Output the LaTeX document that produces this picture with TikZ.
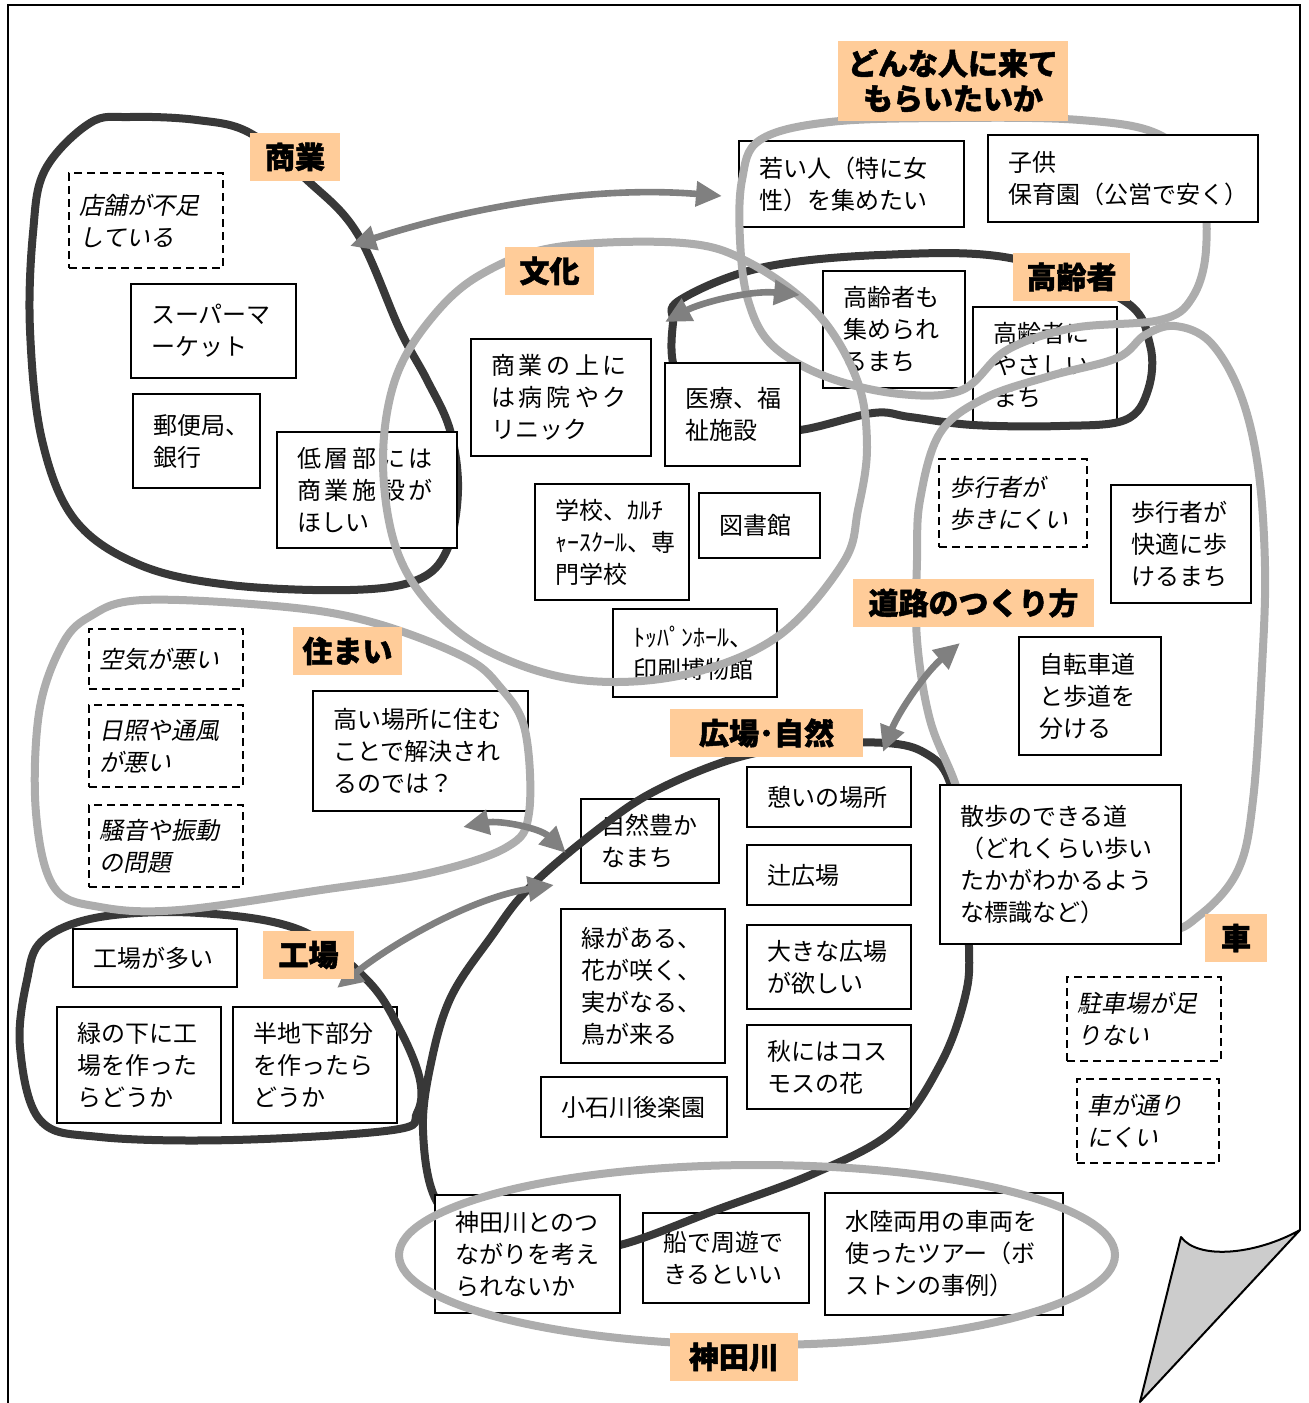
\documentclass[tikz,border=0pt]{standalone}
\usepackage{fontspec}
\setmainfont{Noto Sans CJK JP}[BoldFeatures={FakeBold=1.6}]
\newfontfamily\jpi{Noto Sans CJK JP}[FakeSlant=0.2]
\usetikzlibrary{arrows.meta}
\definecolor{catorange}{RGB}{255,204,153}
\newcommand\bx[7][box]{%
  \pgfmathsetmacro\bxw{(#5-#3)*0.5-20}%
  \pgfmathsetmacro\bxh{(#6-#4)*0.5}%
  \node[#1, text width=\bxw pt, minimum height=\bxh pt] (#2) at ({(#3+#5)/2},{(#4+#6)/2}) {#7};%
}
\newcommand\dbx[6]{%
  \pgfmathsetmacro\bxw{(#4-#2)*0.5-10}%
  \pgfmathsetmacro\bxh{(#5-#3)*0.5}%
  \node[dbox, text width=\bxw pt, minimum height=\bxh pt] (#1) at ({(#2+#4)/2},{(#3+#5)/2}) {#6};%
}
\newcommand\ct[6]{%
  \pgfmathsetmacro\bxw{(#4-#2)*0.5}%
  \pgfmathsetmacro\bxh{(#5-#3)*0.5}%
  \node[cat, minimum width=\bxw pt, minimum height=\bxh pt] (#1) at ({(#2+#4)/2},{(#3+#5)/2}) {#6};%
}
\begin{document}
\begin{tikzpicture}[x=0.5pt,y=-0.5pt,
  box/.style={draw=black,line width=1pt,fill=white,align=left,inner xsep=10pt,inner ysep=2pt,font=\fontsize{12}{16}\selectfont},
  dbox/.style={box,inner xsep=5pt,dash pattern=on 4pt off 2.5pt,font=\fontsize{12}{16}\selectfont\jpi},
  cat/.style={fill=catorange,align=center,inner sep=0pt,font=\fontsize{15}{17.5}\selectfont\bfseries},
  darkline/.style={draw=black!78,line width=4pt},
  grayline/.style={draw=black!32,line width=4pt},
  conn/.style={draw=black!50,line width=3.3pt,{Triangle[length=13pt,width=12pt]}-{Triangle[length=13pt,width=12pt]}}]
\useasboundingbox (0,0) rectangle (1308,1403);
% page frame and folded corner
\draw[line width=1pt] (8,1403) -- (8,5) -- (1300,5) -- (1300,1230);
\draw[line width=1pt,fill=black!20,line join=round] (1300,1230) -- (1140,1402) -- (1181,1237)
  .. controls (1198,1260) and (1255,1255) .. (1300,1230) -- cycle;

% ordinary boxes
\bx{young}{739}{141}{964}{227}{若い人（特に女\\性）を集めたい}
\bx{super}{131}{284}{296}{378}{スーパーマ\\ーケット}
\bx{post}{133}{394}{260}{488}{郵便局、\\銀行}
\bx{hosp}{471}{339}{651}{456}{商\,業\,の\,上\,に\\は\,病\,院\,や\,ク\\リニック}
\bx{eldm}{823}{271}{965}{388}{高齢者も\\集められ\\るまち}
\bx{eldy}{973}{307}{1117}{424}{高齢者に\\やさしい\\まち}
\bx{school}{535}{484}{689}{600}{学校、ｶﾙﾁ\\ｬｰｽｸｰﾙ、専\\門学校}
\bx{lib}{699}{493}{820}{558}{図書館}
\bx{toppan}{613}{609}{777}{697}{ﾄｯﾊﾟﾝﾎｰﾙ、\\印刷博物館}
\bx{walkok}{1111}{485}{1251}{603}{歩行者が\\快適に歩\\けるまち}
\bx{bike}{1019}{637}{1161}{755}{自転車道\\と歩道を\\分ける}
\bx{high}{313}{691}{528}{811}{高い場所に住む\\ことで解決され\\るのでは？}
\bx{nature}{581}{799}{719}{883}{自然豊か\\なまち}
\bx{ikoi}{747}{767}{911}{827}{憩いの場所}
\bx{tsuji}{747}{845}{911}{905}{辻広場}
\bx{bigsq}{747}{925}{911}{1009}{大きな広場\\が欲しい}
\bx{cosmos}{747}{1025}{911}{1109}{秋にはコス\\モスの花}
\bx{green}{561}{909}{725}{1063}{緑がある、\\花が咲く、\\実がなる、\\鳥が来る}
\bx{koraku}{541}{1077}{727}{1137}{小石川後楽園}
\bx{factm}{73}{929}{237}{987}{工場が多い}
\bx{factg}{57}{1007}{221}{1123}{緑の下に工\\場を作った\\らどうか}
\bx{facth}{233}{1007}{397}{1123}{半地下部分\\を作ったら\\どうか}
\bx{boat}{643}{1213}{809}{1303}{船で周遊で\\きるといい}
\bx{amph}{825}{1193}{1063}{1315}{水陸両用の車両を\\使ったツアー（ボ\\ストンの事例）}

% dashed boxes
\dbx{shops}{69}{173}{223}{268}{店舗が不足\\している}
\dbx{air}{89}{629}{243}{689}{空気が悪い}
\dbx{sun}{89}{705}{243}{787}{日照や通風\\が悪い}
\dbx{noise}{89}{805}{243}{887}{騒音や振動\\の問題}
\dbx{walkng}{939}{459}{1087}{547}{歩行者が\\歩きにくい}
\dbx{park}{1067}{977}{1221}{1061}{駐車場が足\\りない}
\dbx{cars}{1077}{1079}{1219}{1163}{車が通り\\にくい}

% dark group outlines
\draw[darkline] plot[smooth cycle,tension=0.6] coordinates {(90,123) (130,117) (197,120) (250,133) (307,180) (357,233) (400,330) (427,380) (450,430) (458,490) (447,550) (417,580) (350,590) (230,585) (140,565) (75,520) (42,440) (30,330) (33,233) (45,170)};
\draw[darkline] plot[smooth cycle,tension=0.6] coordinates {(680,300) (760,268) (880,255) (1010,258) (1123,300) (1150,345) (1148,390) (1125,420) (1060,426) (973,425) (910,417) (873,413) (800,430) (740,430) (690,400) (673,363) (673,323)};
\draw[darkline] plot[smooth cycle,tension=0.6] coordinates {(43,940) (100,917) (200,913) (300,930) (367,980) (400,1030) (420,1080) (417,1113) (393,1130) (233,1140) (100,1137) (40,1120) (20,1047) (27,980)};
\draw[darkline] plot[smooth cycle,tension=0.6] coordinates {(620,1245) (716,1210) (815,1173) (894,1130) (941,1063) (965,997) (969,947) (962,850) (949,780) (925,753) (886,743) (810,745) (736,758) (657,790) (601,827) (530,887) (491,937) (451,997) (431,1063) (423,1130) (436,1200) (480,1240) (550,1252)};
% gray outlines drawn below some boxes
\draw[grayline] plot[smooth cycle,tension=0.6] coordinates {(760,140) (830,122) (950,118) (1080,120) (1160,135) (1200,180) (1206,250) (1192,298) (1160,320) (1073,328) (1007,350) (962,390) (900,394) (827,377) (772,345) (748,300) (740,240) (742,180)};
\draw[grayline] plot[smooth cycle,tension=0.6] coordinates {(920,500) (940,433) (985,398) (1050,376) (1117,358) (1145,335) (1175,326) (1210,342) (1240,393) (1258,467) (1265,567) (1262,667) (1253,800) (1238,870) (1200,915) (1160,930) (1060,905) (975,850) (955,783) (930,720) (917,640) (917,560)};

% boxes lying over outlines
\bx{kids}{988}{135}{1258}{222}{子供\\保育園（公営で安く）}
\bx{lowrise}{277}{432}{457}{548}{低\,層\,部\,に\,は\\商\,業\,施\,設\,が\\ほしい}
\bx{medic}{665}{363}{800}{466}{医療、福\\祉施設}
\bx{stroll}{940}{785}{1181}{944}{散歩のできる道\\（どれくらい歩い\\たかがわかるよう\\な標識など）}
\bx{river}{435}{1195}{620}{1313}{神田川とのつ\\ながりを考え\\られないか}

% gray outlines drawn over boxes
\draw[grayline] plot[smooth cycle,tension=0.6] coordinates {(557,247) (683,243) (750,263) (817,313) (857,380) (867,447) (858,510) (843,563) (777,637) (683,675) (580,680) (490,652) (430,605) (395,545) (383,460) (395,380) (430,320) (480,275)};
\draw[grayline] plot[smooth cycle,tension=0.6] coordinates {(89,617) (143,600) (286,607) (375,623) (464,657) (500,687) (525,730) (529,813) (507,847) (429,873) (321,890) (179,910) (100,907) (54,887) (36,813) (39,713) (61,647)};
\draw[grayline] (757,1255) ellipse [x radius=358, y radius=90];

% connectors
\coordinate (a1) at (350,246); \coordinate (a2) at (722,196);
\coordinate (b1) at (665,322); \coordinate (b2) at (800,295);
\coordinate (c1) at (463,827); \coordinate (c2) at (566,853);
\coordinate (d1) at (337,988); \coordinate (d2) at (554,885);
\coordinate (e1) at (883,752); \coordinate (e2) at (960,643);
\draw[conn] (a1) .. controls (480,204) and (600,186) .. (a2);
\draw[conn] (b1) .. controls (700,303) and (750,290) .. (b2);
\draw[conn] (c1) .. controls (500,820) and (540,828) .. (c2);
\draw[conn] (d1) .. controls (390,945) and (470,898) .. (d2);
\draw[conn] (e1) .. controls (898,713) and (925,673) .. (e2);

% category labels
\ct{lwho}{838}{41}{1068}{121}{どんな人に来て\\もらいたいか}
\ct{lcom}{250}{133}{340}{181}{商業}
\ct{lcul}{505}{247}{594}{295}{文化}
\ct{lold}{1013}{253}{1130}{301}{高齢者}
\ct{lhome}{293}{627}{402}{675}{住まい}
\ct{lroad}{853}{579}{1094}{627}{道路のつくり方}
\ct{lpark}{670}{709}{863}{757}{広場･自然}
\ct{lfact}{263}{931}{354}{979}{工場}
\ct{lcar}{1205}{914}{1267}{962}{車}
\ct{lriver}{670}{1333}{798}{1381}{神田川}
\end{tikzpicture}
\end{document}
